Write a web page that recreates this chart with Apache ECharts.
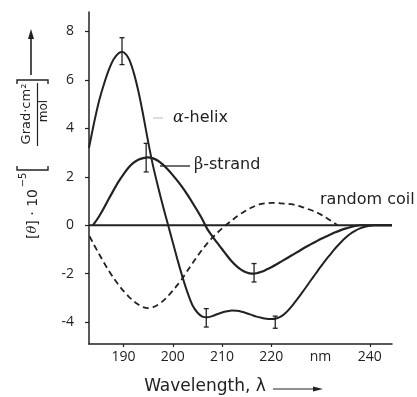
<!DOCTYPE html>
<html>
<head>
<meta charset="utf-8">
<script src="https://cdn.jsdelivr.net/npm/echarts@6/dist/echarts.min.js"></script>
<style>
  html, body { margin: 0; padding: 0; background: #fff; }
  #chart { width: 417px; height: 397px; }
</style>
</head>
<body>
<div id="chart"></div>
<script>
// wavelength (nm) / [theta] * 1e-5 pairs
const alphaHelix = [
  [183, 3.2], [184, 4.2], [185, 5.1], [186, 5.8], [187, 6.4], [188, 6.85], [189, 7.1],
  [189.8, 7.15], [191, 6.9], [192, 6.35], [193, 5.55], [194, 4.55], [195, 3.45], [196, 2.45],
  [197, 1.6], [198, 0.8], [199, 0.05], [200, -0.7], [201, -1.45], [202, -2.15], [203, -2.78],
  [204, -3.3], [205, -3.6], [206, -3.77], [207, -3.8], [208, -3.75], [209, -3.67],
  [210, -3.6], [211, -3.55], [212, -3.52], [213, -3.53], [214, -3.57], [215, -3.63],
  [216, -3.7], [217, -3.77], [218, -3.82], [219, -3.86], [220, -3.87], [221, -3.85],
  [222, -3.76], [223, -3.6], [224, -3.38], [225, -3.12], [226, -2.85], [227, -2.57],
  [228, -2.28], [229, -2.0], [230, -1.72], [231, -1.45], [232, -1.2], [233, -0.95],
  [234, -0.73], [235, -0.53], [236, -0.36], [237, -0.23], [238, -0.13], [239, -0.06],
  [240, -0.02], [241, 0], [244.5, 0]
];
const betaStrand = [
  [183.8, 0], [185, 0.35], [186, 0.7], [187, 1.08], [188, 1.45], [189, 1.8], [190, 2.1],
  [191, 2.37], [192, 2.57], [193, 2.7], [194, 2.77], [195, 2.8], [196, 2.76], [197, 2.66],
  [198, 2.5], [199, 2.3], [200, 2.07], [201, 1.82], [202, 1.55], [203, 1.25], [204, 0.93],
  [205, 0.6], [206, 0.25], [207, -0.15], [208, -0.45], [209, -0.72], [210, -0.98],
  [211, -1.25], [212, -1.5], [213, -1.7], [214, -1.85], [215, -1.95], [216, -2.0],
  [217, -1.98], [218, -1.92], [219, -1.83], [220, -1.73], [221, -1.62], [222, -1.5],
  [223, -1.38], [224, -1.26], [225, -1.14], [226, -1.02], [227, -0.9], [228, -0.79],
  [229, -0.68], [230, -0.57], [231, -0.47], [232, -0.38], [233, -0.29], [234, -0.21],
  [235, -0.14], [236, -0.08], [237, -0.03], [238, 0], [244.5, 0]
];
const randomCoil = [
  [183.1, -0.45], [184, -0.8], [185, -1.17], [186, -1.53], [187, -1.87], [188, -2.18],
  [189, -2.46], [190, -2.71], [191, -2.93], [192, -3.12], [193, -3.27], [194, -3.38],
  [195, -3.42], [196, -3.38], [197, -3.28], [198, -3.13], [199, -2.93], [200, -2.7],
  [201, -2.45], [202, -2.18], [203, -1.87], [204, -1.57], [205, -1.28], [206, -1.0],
  [207, -0.75], [208, -0.52], [209, -0.32], [210, -0.13], [211, 0.04], [212, 0.2],
  [213, 0.36], [214, 0.5], [215, 0.62], [216, 0.73], [217, 0.82], [218, 0.88],
  [219, 0.91], [220, 0.92], [221, 0.92], [222, 0.9], [223, 0.89], [224, 0.87],
  [225, 0.83], [226, 0.77], [227, 0.7], [228, 0.63], [229, 0.55], [230, 0.45],
  [231, 0.33], [232, 0.2], [233, 0.06], [233.4, 0]
];
// error bars: [wavelength, low, high]
const errorBars = [
  [189.7, 6.63, 7.74],
  [194.6, 2.2, 3.38],
  [206.8, -4.2, -3.44],
  [216.5, -2.34, -1.58],
  [220.8, -4.25, -3.75]
];
const baseline = [[183, 0], [244.5, 0]];
const xTicks = [190, 200, 210, 220, 240];
const xLabels = [190, 200, 210, 220, 230, 240];
const yTicks = [-4, -2, 0, 2, 4, 6, 8];

const INK = '#222';
const FONT = '"Open Sans", "DejaVu Sans", sans-serif';
const LABEL_FONT = '"DejaVu Sans", sans-serif';

const chart = echarts.init(document.getElementById('chart'));

const lineSeries = (data, dashed, width) => ({
  type: 'line',
  data,
  smooth: 0.3,
  symbol: 'none',
  silent: true,
  lineStyle: { color: INK, width, type: dashed ? [6, 4] : 'solid' },
  z: 3
});

chart.setOption({
  animation: false,
  grid: { left: 89, right: 25, top: 12, bottom: 53 },
  xAxis: {
    type: 'value',
    min: 183,
    max: 244.5,
    axisLine: { onZero: false, lineStyle: { color: INK, width: 1.5 } },
    axisTick: { customValues: xTicks, length: 3, lineStyle: { color: INK, width: 1.2 } },
    axisLabel: {
      customValues: xLabels,
      formatter: v => (v === 230 ? 'nm' : String(v)),
      color: INK, fontSize: 14, fontFamily: FONT, margin: 6
    },
    splitLine: { show: false }
  },
  yAxis: {
    type: 'value',
    min: -4.9,
    max: 8.8,
    axisLine: { lineStyle: { color: INK, width: 1.5 } },
    axisTick: { customValues: yTicks, length: 4, lineStyle: { color: INK, width: 1.2 } },
    axisLabel: { customValues: yTicks, color: INK, fontSize: 14, fontFamily: FONT, margin: 15 },
    splitLine: { show: false }
  },
  series: [
    { type: 'line', data: baseline, symbol: 'none', silent: true,
      lineStyle: { color: INK, width: 1.8 }, z: 2 },
    lineSeries(alphaHelix, false, 2),
    lineSeries(betaStrand, false, 2.2),
    lineSeries(randomCoil, true, 1.8),
    {
      type: 'custom',
      data: errorBars,
      encode: { x: 0, y: [1, 2] },
      silent: true,
      z: 4,
      renderItem: (params, api) => {
        const top = api.coord([api.value(0), api.value(2)]);
        const bot = api.coord([api.value(0), api.value(1)]);
        const st = { stroke: INK, lineWidth: 1.3 };
        return {
          type: 'group',
          children: [
            { type: 'line', shape: { x1: top[0], y1: top[1], x2: bot[0], y2: bot[1] }, style: st },
            { type: 'line', shape: { x1: top[0] - 2.5, y1: top[1], x2: top[0] + 2.5, y2: top[1] }, style: st },
            { type: 'line', shape: { x1: bot[0] - 2.5, y1: bot[1], x2: bot[0] + 2.5, y2: bot[1] }, style: st }
          ]
        };
      }
    }
  ],
  graphic: [
    // curve labels
    { type: 'line', shape: { x1: 153, y1: 118, x2: 163, y2: 118 }, style: { stroke: '#ddd', lineWidth: 2 } },
    { type: 'text', x: 173, y: 118, style: {
        text: '{g|α}-helix', fill: INK, font: '16px ' + LABEL_FONT, verticalAlign: 'middle',
        rich: { g: { fontFamily: '"DejaVu Serif", serif', fontStyle: 'italic', fontSize: 16, fill: INK } }
    } },
    { type: 'line', shape: { x1: 160, y1: 166, x2: 190, y2: 166 }, style: { stroke: INK, lineWidth: 1.3 } },
    { type: 'text', x: 194, y: 165, style: {
        text: '{g|β}-strand', fill: INK, font: '16px ' + LABEL_FONT, verticalAlign: 'middle',
        rich: { g: { fontFamily: '"DejaVu Serif", serif', fontSize: 16, fill: INK } }
    } },
    { type: 'text', x: 320, y: 200, style: {
        text: 'random coil', fill: INK, font: '16px ' + LABEL_FONT, verticalAlign: 'middle'
    } },
    // x axis title with arrow
    { type: 'text', x: 205, y: 387, style: {
        text: 'Wavelength, λ', fill: INK, font: '17px ' + LABEL_FONT, align: 'center', verticalAlign: 'middle'
    } },
    { type: 'line', shape: { x1: 273, y1: 389, x2: 316, y2: 389 }, style: { stroke: INK, lineWidth: 1 } },
    { type: 'polygon', shape: { points: [[313, 386.5], [323, 389], [313, 391.5]] }, style: { fill: INK } },
    // y axis title, rotated
    { type: 'line', shape: { x1: 31, y1: 75, x2: 31, y2: 36 }, style: { stroke: INK, lineWidth: 1.6 } },
    { type: 'polygon', shape: { points: [[28, 39], [31, 29], [34, 39]] }, style: { fill: INK } },
    { type: 'text', x: 33, y: 214, rotation: Math.PI / 2, style: {
        text: '[{i|θ}] · 10', fill: INK, font: '14px ' + LABEL_FONT, align: 'center', verticalAlign: 'middle',
        rich: { i: { fontFamily: '"DejaVu Serif", serif', fontStyle: 'italic', fontSize: 13, fill: INK } }
    } },
    { type: 'text', x: 23, y: 180, rotation: Math.PI / 2, style: {
        text: '−5', fill: INK, font: '10px ' + LABEL_FONT, align: 'center', verticalAlign: 'middle'
    } },
    { type: 'polyline', shape: { points: [[17, 166], [17, 170], [48, 170], [48, 166]] }, style: { stroke: INK, lineWidth: 1.4, fill: null } },
    { type: 'polyline', shape: { points: [[17, 84], [17, 80], [48, 80], [48, 84]] }, style: { stroke: INK, lineWidth: 1.4, fill: null } },
    { type: 'text', x: 27, y: 114, rotation: Math.PI / 2, style: {
        text: 'Grad·cm²', fill: INK, font: '13px ' + LABEL_FONT, align: 'center', verticalAlign: 'middle'
    } },
    { type: 'line', shape: { x1: 37.5, y1: 83, x2: 37.5, y2: 146 }, style: { stroke: INK, lineWidth: 1.2 } },
    { type: 'text', x: 44, y: 111, rotation: Math.PI / 2, style: {
        text: 'mol', fill: INK, font: '12px ' + LABEL_FONT, align: 'center', verticalAlign: 'middle'
    } }
  ]
});
</script>
</body>
</html>
